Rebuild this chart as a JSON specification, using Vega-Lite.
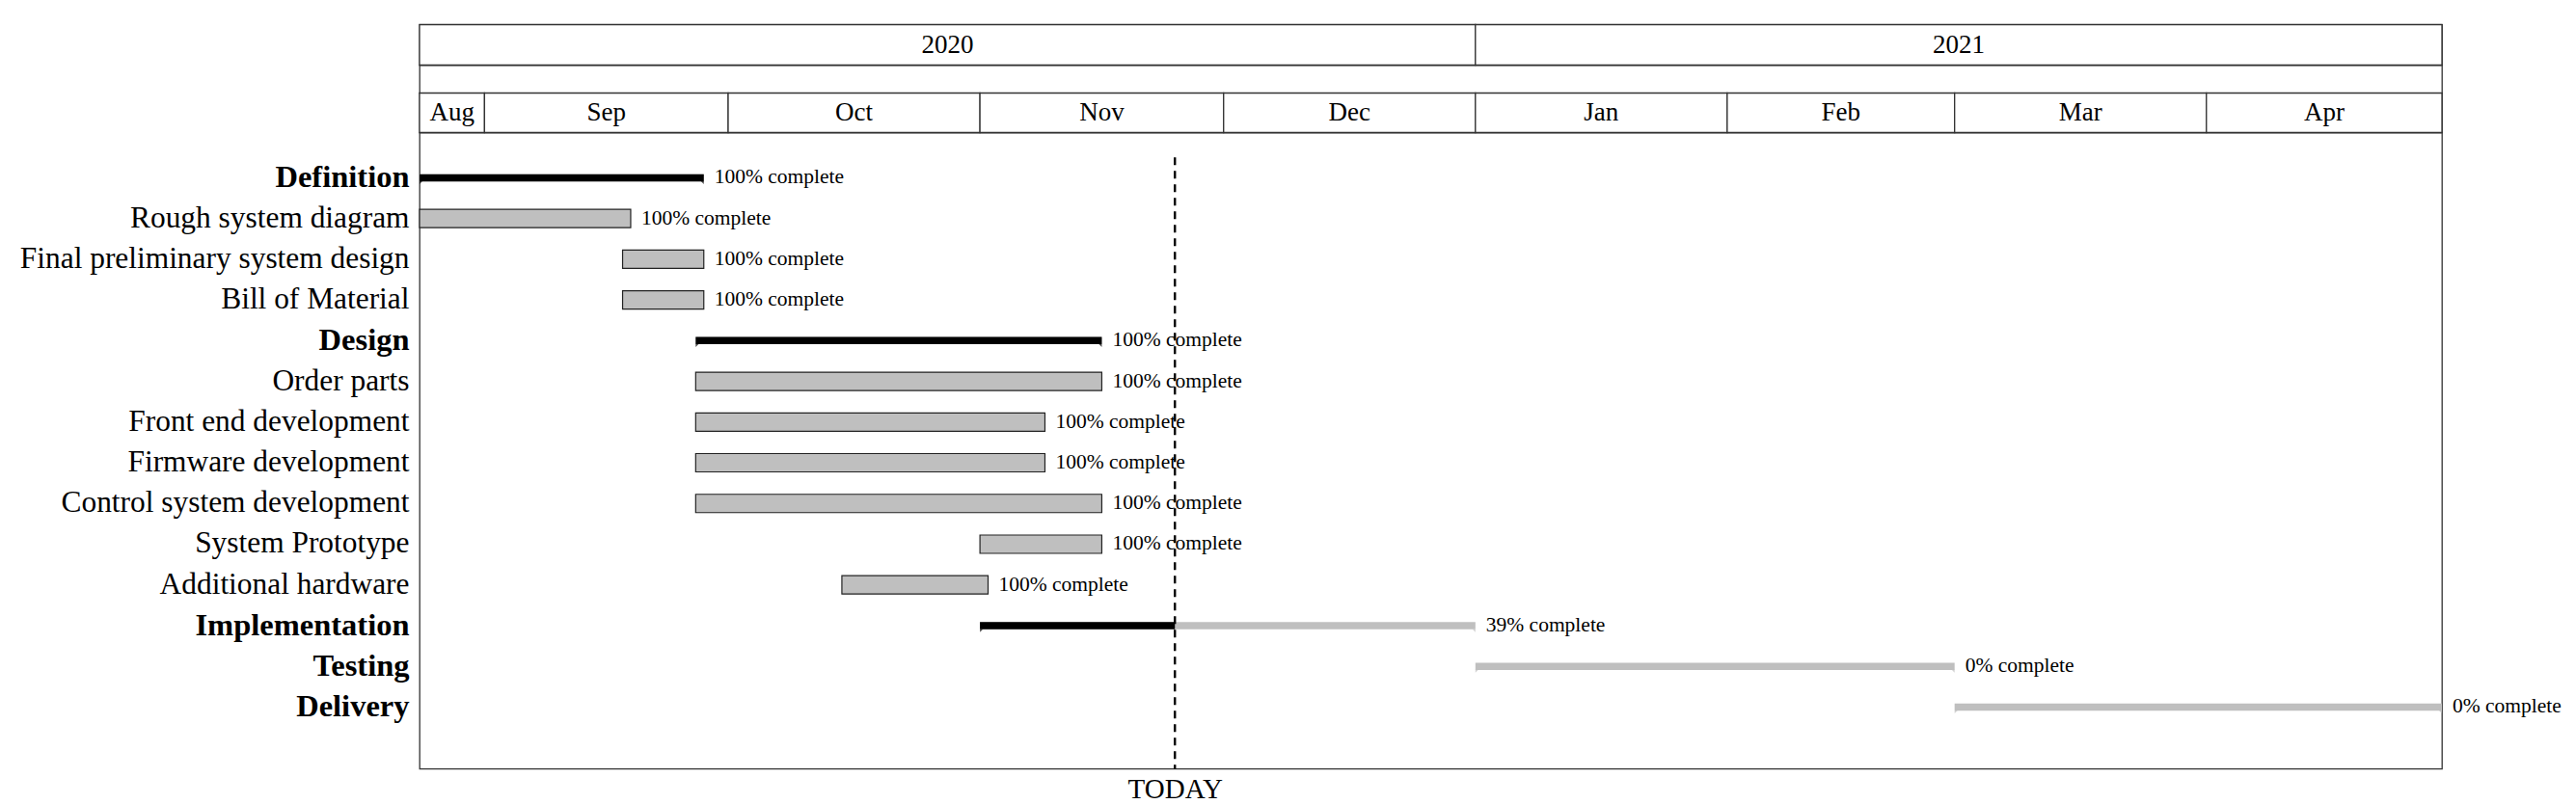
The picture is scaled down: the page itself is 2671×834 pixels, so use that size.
{
  "$schema": "https://vega.github.io/schema/vega-lite/v6.json",
  "autosize": {"type": "pad"},
  "padding": {"left": 5, "top": 23.5, "right": 5, "bottom": 2},
  "spacing": 0,
  "bounds": "flush",
  "config": {
    "view": {"stroke": "#333", "strokeWidth": 1.3},
    "font": "Liberation Serif",
    "text": {"font": "Liberation Serif", "color": "black"},
    "axis": {"labelFont": "Liberation Serif", "labelColor": "black"}
  },
  "vconcat": [
    {
      "width": 2097,
      "height": 42,
      "data": {
        "values": [
          {"label": "2020", "start": "2020-08-24", "end": "2021-01-01"},
          {"label": "2021", "start": "2021-01-01", "end": "2021-04-30"}
        ],
        "format": {"parse": {"start": "date", "end": "date"}}
      },
      "layer": [
        {
          "mark": {"type": "rect", "fill": "white", "stroke": "#333", "strokeWidth": 1.3},
          "encoding": {
            "x": {"field": "start", "type": "temporal", "axis": null,
                  "scale": {"type": "utc", "nice": false, "domain": [{"year": 2020, "month": 8, "date": 24, "utc": true}, {"year": 2021, "month": 4, "date": 30, "utc": true}]}},
            "x2": {"field": "end"}
          }
        },
        {
          "transform": [
            {"fold": ["start", "end"], "as": ["edge", "t"]},
            {"aggregate": [{"op": "mean", "field": "t", "as": "mid"}], "groupby": ["label"]}
          ],
          "mark": {"type": "text", "fontSize": 27, "font": "Liberation Serif", "color": "black", "baseline": "middle"},
          "encoding": {
            "x": {"field": "mid", "type": "temporal"},
            "text": {"field": "label"}
          }
        }
      ]
    },
    {
      "width": 2097,
      "height": 29,
      "data": {
        "values": [
          {"label": "2020", "start": "2020-08-24", "end": "2021-01-01"},
          {"label": "2021", "start": "2021-01-01", "end": "2021-04-30"}
        ]
      },
      "mark": {"type": "rect", "fill": "white", "opacity": 0},
      "encoding": {
        "x": {"field": "start", "type": "temporal", "axis": null,
              "scale": {"type": "utc", "nice": false, "domain": [{"year": 2020, "month": 8, "date": 24, "utc": true}, {"year": 2021, "month": 4, "date": 30, "utc": true}]}},
        "x2": {"field": "end"}
      }
    },
    {
      "width": 2097,
      "height": 41,
      "data": {
        "values": [
          {"label": "Aug", "start": "2020-08-24", "end": "2020-09-01"},
          {"label": "Sep", "start": "2020-09-01", "end": "2020-10-01"},
          {"label": "Oct", "start": "2020-10-01", "end": "2020-11-01"},
          {"label": "Nov", "start": "2020-11-01", "end": "2020-12-01"},
          {"label": "Dec", "start": "2020-12-01", "end": "2021-01-01"},
          {"label": "Jan", "start": "2021-01-01", "end": "2021-02-01"},
          {"label": "Feb", "start": "2021-02-01", "end": "2021-03-01"},
          {"label": "Mar", "start": "2021-03-01", "end": "2021-04-01"},
          {"label": "Apr", "start": "2021-04-01", "end": "2021-04-30"}
        ],
        "format": {"parse": {"start": "date", "end": "date"}}
      },
      "layer": [
        {
          "mark": {"type": "rect", "fill": "white", "stroke": "#333", "strokeWidth": 1.3},
          "encoding": {
            "x": {"field": "start", "type": "temporal", "axis": null,
                  "scale": {"type": "utc", "nice": false, "domain": [{"year": 2020, "month": 8, "date": 24, "utc": true}, {"year": 2021, "month": 4, "date": 30, "utc": true}]}},
            "x2": {"field": "end"}
          }
        },
        {
          "transform": [
            {"fold": ["start", "end"], "as": ["edge", "t"]},
            {"aggregate": [{"op": "mean", "field": "t", "as": "mid"}], "groupby": ["label"]}
          ],
          "mark": {"type": "text", "fontSize": 27, "font": "Liberation Serif", "color": "black", "baseline": "middle"},
          "encoding": {
            "x": {"field": "mid", "type": "temporal"},
            "text": {"field": "label"}
          }
        }
      ]
    },
    {
      "width": 2097,
      "height": 660,
      "data": {
        "values": [
          {"task": "Definition", "kind": "group", "start": "2020-08-24", "end": "2020-09-28", "done": "2020-09-28", "progress": 100, "label": "100% complete"},
          {"task": "Rough system diagram", "kind": "task", "start": "2020-08-24", "end": "2020-09-19", "done": "2020-09-19", "progress": 100, "label": "100% complete"},
          {"task": "Final preliminary system design", "kind": "task", "start": "2020-09-18", "end": "2020-09-28", "done": "2020-09-28", "progress": 100, "label": "100% complete"},
          {"task": "Bill of Material", "kind": "task", "start": "2020-09-18", "end": "2020-09-28", "done": "2020-09-28", "progress": 100, "label": "100% complete"},
          {"task": "Design", "kind": "group", "start": "2020-09-27", "end": "2020-11-16", "done": "2020-11-16", "progress": 100, "label": "100% complete"},
          {"task": "Order parts", "kind": "task", "start": "2020-09-27", "end": "2020-11-16", "done": "2020-11-16", "progress": 100, "label": "100% complete"},
          {"task": "Front end development", "kind": "task", "start": "2020-09-27", "end": "2020-11-09", "done": "2020-11-09", "progress": 100, "label": "100% complete"},
          {"task": "Firmware development", "kind": "task", "start": "2020-09-27", "end": "2020-11-09", "done": "2020-11-09", "progress": 100, "label": "100% complete"},
          {"task": "Control system development", "kind": "task", "start": "2020-09-27", "end": "2020-11-16", "done": "2020-11-16", "progress": 100, "label": "100% complete"},
          {"task": "System Prototype", "kind": "task", "start": "2020-11-01", "end": "2020-11-16", "done": "2020-11-16", "progress": 100, "label": "100% complete"},
          {"task": "Additional hardware", "kind": "task", "start": "2020-10-15", "end": "2020-11-02", "done": "2020-11-02", "progress": 100, "label": "100% complete"},
          {"task": "Implementation", "kind": "group", "start": "2020-11-01", "end": "2021-01-01", "done": "2020-11-25", "progress": 39, "label": "39% complete"},
          {"task": "Testing", "kind": "group", "start": "2021-01-01", "end": "2021-03-01", "done": "2021-01-01", "progress": 0, "label": "0% complete"},
          {"task": "Delivery", "kind": "group", "start": "2021-03-01", "end": "2021-04-30", "done": "2021-03-01", "progress": 0, "label": "0% complete"}
        ]
      },
      "encoding": {
        "y": {
          "field": "task", "type": "nominal",
          "scale": {
            "domain": ["Definition", "Rough system diagram", "Final preliminary system design", "Bill of Material", "Design", "Order parts", "Front end development", "Firmware development", "Control system development", "System Prototype", "Additional hardware", "Implementation", "Testing", "Delivery"],
            "paddingInner": 0, "paddingOuter": 0.8144, "align": 0.375
          },
          "axis": {
            "title": null, "ticks": false, "domain": false, "grid": false,
            "labelPadding": 11, "labelLimit": 1000,
            "minExtent": 429, "maxExtent": 429,
            "labelFont": "Liberation Serif", "labelColor": "black",
            "labelFontSize": {"condition": {"test": "indexof(['Definition','Design','Implementation','Testing','Delivery'], datum.value) >= 0", "value": 32.5}, "value": 31.4},
            "labelFontWeight": {"condition": {"test": "indexof(['Definition','Design','Implementation','Testing','Delivery'], datum.value) >= 0", "value": "bold"}, "value": "normal"}
          }
        }
      },
      "layer": [
        {
          "transform": [{"filter": "datum.kind == 'task'"}],
          "mark": {"type": "bar", "height": 19, "fill": "#bfbfbf", "stroke": "#222", "strokeWidth": 1.2, "cornerRadius": 0},
          "encoding": {
            "x": {"field": "start", "type": "temporal",
                  "scale": {"type": "utc", "nice": false, "domain": [{"year": 2020, "month": 8, "date": 24, "utc": true}, {"year": 2021, "month": 4, "date": 30, "utc": true}]},
                  "axis": {
                    "values": [{"year": 2020, "month": 11, "date": 25, "utc": true}],
                    "labelExpr": "'TODAY'", "title": null, "ticks": false, "domain": false, "grid": false,
                    "labelPadding": 7, "labelFontSize": 29, "labelFont": "Liberation Serif", "labelColor": "black", "labelFlush": false
                  }},
            "x2": {"field": "end"}
          }
        },
        {
          "transform": [{"filter": "datum.kind == 'group'"}],
          "mark": {"type": "bar", "height": 7.5, "fill": "#bfbfbf", "cornerRadius": 0},
          "encoding": {
            "x": {"field": "start", "type": "temporal"},
            "x2": {"field": "end"}
          }
        },
        {
          "transform": [{"filter": "datum.kind == 'group' && datum.progress > 0"}],
          "mark": {"type": "bar", "height": 7.5, "fill": "black", "cornerRadius": 0},
          "encoding": {
            "x": {"field": "start", "type": "temporal"},
            "x2": {"field": "done"}
          }
        },
        {
          "transform": [{"filter": "datum.kind == 'group'"}],
          "mark": {"type": "point", "shape": "M0,0L0,1L1,0Z", "size": 36, "filled": true, "strokeWidth": 0, "yOffset": 3.7},
          "encoding": {
            "x": {"field": "start", "type": "temporal"},
            "color": {"condition": {"test": "datum.progress > 0", "value": "black"}, "value": "#bfbfbf"}
          }
        },
        {
          "transform": [{"filter": "datum.kind == 'group'"}],
          "mark": {"type": "point", "shape": "M0,0L0,1L-1,0Z", "size": 36, "filled": true, "strokeWidth": 0, "yOffset": 3.7},
          "encoding": {
            "x": {"field": "end", "type": "temporal"},
            "color": {"condition": {"test": "datum.progress >= 100", "value": "black"}, "value": "#bfbfbf"}
          }
        },
        {
          "mark": {"type": "text", "align": "left", "baseline": "middle", "dx": 11, "fontSize": 21.5, "font": "Liberation Serif", "color": "black"},
          "encoding": {
            "x": {"field": "end", "type": "temporal"},
            "text": {"field": "label"}
          }
        },
        {
          "data": {"values": [{"event": "TODAY", "date": "2020-11-25"}]},
          "mark": {"type": "rule", "strokeDash": [8, 6], "strokeWidth": 2.4, "color": "black"},
          "encoding": {
            "x": {"field": "date", "type": "temporal"},
            "y": {"datum": "Definition", "type": "nominal", "bandPosition": 0},
            "y2": {"value": "height"}
          }
        }
      ]
    }
  ]
}
